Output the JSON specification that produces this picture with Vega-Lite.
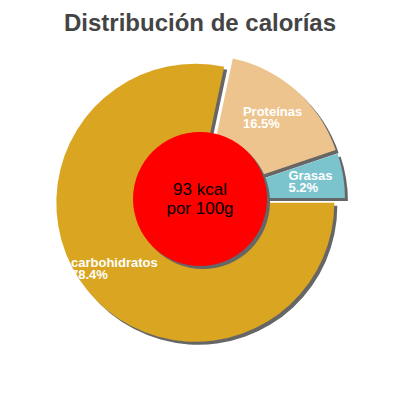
{
  "$schema": "https://vega.github.io/schema/vega-lite/v6.json",
  "width": 400,
  "height": 318,
  "padding": {"top": 12, "left": 0, "right": 0, "bottom": 0},
  "title": {
    "text": "Distribución de calorías",
    "font": "Liberation Sans",
    "fontSize": 24,
    "fontWeight": "bold",
    "color": "#444444",
    "anchor": "middle",
    "offset": 4
  },
  "datasets": {
    "macros": [
      {"nutriente": "Proteínas", "fraccion": 0.165, "orden": 1},
      {"nutriente": "Grasas", "fraccion": 0.052, "orden": 2},
      {"nutriente": "carbohidratos", "fraccion": 0.784, "orden": 3}
    ],
    "energia": [
      {"kcal": "93 kcal", "base": "por 100g"}
    ]
  },
  "layer": [
    {
      "data": {"name": "macros"},
      "encoding": {
        "theta": {
          "field": "fraccion",
          "type": "quantitative",
          "stack": true,
          "scale": {"range": [0.2088, 6.492]}
        },
        "order": {"field": "orden", "type": "quantitative"}
      },
      "layer": [
        {
          "mark": {
            "type": "arc",
            "outerRadius": 139,
            "fill": "#666666",
            "xOffset": {"expr": "3 + 6 * sin(scale('theta', (datum.fraccion_start + datum.fraccion_end) / 2))"},
            "yOffset": {"expr": "3 - 6 * cos(scale('theta', (datum.fraccion_start + datum.fraccion_end) / 2))"}
          }
        },
        {
          "mark": {
            "type": "arc",
            "outerRadius": 139,
            "xOffset": {"expr": "6 * sin(scale('theta', (datum.fraccion_start + datum.fraccion_end) / 2))"},
            "yOffset": {"expr": "-6 * cos(scale('theta', (datum.fraccion_start + datum.fraccion_end) / 2))"}
          },
          "encoding": {
            "color": {
              "field": "nutriente",
              "type": "nominal",
              "scale": {
                "domain": ["Proteínas", "Grasas", "carbohidratos"],
                "range": ["#eec48e", "#7bc4cd", "#daa520"]
              },
              "legend": null
            }
          }
        },
        {
          "mark": {
            "type": "text",
            "radius": 104,
            "align": "left",
            "baseline": "alphabetic",
            "dx": {"expr": "-3.35 * length(datum.nutriente)"},
            "dy": -1,
            "xOffset": {"expr": "6 * sin(scale('theta', (datum.fraccion_start + datum.fraccion_end) / 2))"},
            "yOffset": {"expr": "-6 * cos(scale('theta', (datum.fraccion_start + datum.fraccion_end) / 2))"},
            "font": "Liberation Sans",
            "fontSize": 13,
            "fontWeight": "bold",
            "fill": "white"
          },
          "encoding": {
            "text": {"field": "nutriente", "type": "nominal"}
          }
        },
        {
          "mark": {
            "type": "text",
            "radius": 104,
            "align": "left",
            "baseline": "alphabetic",
            "dx": {"expr": "-3.35 * length(datum.nutriente)"},
            "dy": 11,
            "xOffset": {"expr": "6 * sin(scale('theta', (datum.fraccion_start + datum.fraccion_end) / 2))"},
            "yOffset": {"expr": "-6 * cos(scale('theta', (datum.fraccion_start + datum.fraccion_end) / 2))"},
            "font": "Liberation Sans",
            "fontSize": 13,
            "fontWeight": "bold",
            "fill": "white"
          },
          "encoding": {
            "text": {"field": "fraccion", "type": "quantitative", "format": ".1%"}
          }
        }
      ]
    },
    {
      "data": {"name": "energia"},
      "layer": [
        {
          "mark": {
            "type": "arc",
            "theta": 0,
            "theta2": 6.2832,
            "outerRadius": 67,
            "fill": "#666666",
            "xOffset": 3,
            "yOffset": 3
          }
        },
        {
          "mark": {
            "type": "arc",
            "theta": 0,
            "theta2": 6.2832,
            "outerRadius": 67,
            "fill": "#ff0000"
          }
        },
        {
          "mark": {
            "type": "text",
            "baseline": "alphabetic",
            "dy": -4,
            "font": "Liberation Sans",
            "fontSize": 17,
            "fill": "black"
          },
          "encoding": {
            "text": {"field": "kcal", "type": "nominal"}
          }
        },
        {
          "mark": {
            "type": "text",
            "baseline": "alphabetic",
            "dy": 15,
            "font": "Liberation Sans",
            "fontSize": 17,
            "fill": "black"
          },
          "encoding": {
            "text": {"field": "base", "type": "nominal"}
          }
        }
      ]
    }
  ],
  "config": {
    "view": {"stroke": null}
  }
}
